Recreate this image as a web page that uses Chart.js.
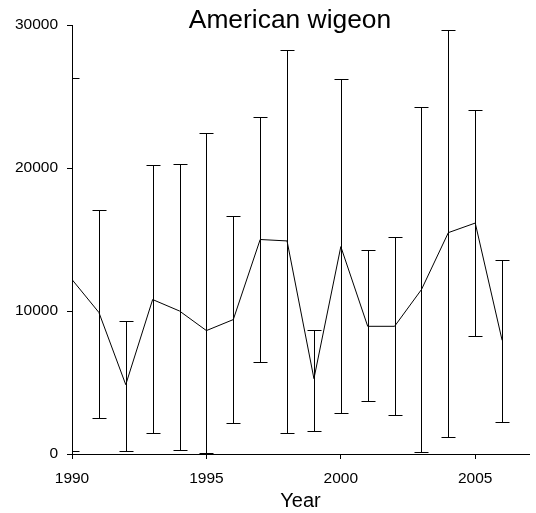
<!DOCTYPE html>
<html>
<head>
<meta charset="utf-8">
<title>American wigeon</title>
<script src="https://cdn.jsdelivr.net/npm/chart.js@4/dist/chart.umd.min.js"></script>
<style>
  body { margin: 0; background: #fff; }
  canvas { display: block; }
</style>
</head>
<body>
<canvas id="myChart" width="536" height="513"></canvas>
<script>
var ctx = document.getElementById('myChart').getContext('2d');

// survey counts per year, with upper / lower limits of each error bar
let years = [1990, 1991, 1992, 1993, 1994, 1995, 1996, 1997, 1998, 1999, 2000, 2001, 2002, 2003, 2004, 2005, 2006];
let counts = [12200, 9900, 4850, 10800, 10000, 8630, 9400, 15000, 14900, 5270, 14500, 8930, 8930, 11500, 15480, 16150, 7950];
let upper = [26300, 17050, 9330, 20200, 20300, 22480, 16620, 23550, 28280, 8650, 26200, 14250, 15150, 24250, 29680, 24080, 13550];
let lower = [200, 2550, 240, 1500, 300, 100, 2170, 6410, 1470, 1640, 2870, 3690, 2710, 170, 1220, 8250, 2240];
let xTicks = [1990, 1995, 2000, 2005];
let yTicks = [0, 10000, 20000, 30000];

let fontFamily = '"Liberation Sans", Arial, sans-serif';

let points = [];
for (let i = 0; i < years.length; i += 1) {
  points.push({ x: years[i], y: counts[i] });
}

// vertical bars with end caps, cut off at the left axis
const errorBars = {
  id: 'errorBars',
  afterDatasetsDraw(chart) {
    const c = chart.ctx;
    const xs = chart.scales.x;
    const ys = chart.scales.y;
    const area = chart.chartArea;
    c.save();
    c.beginPath();
    c.rect(area.left, 0, chart.width - area.left, chart.height);
    c.clip();
    c.strokeStyle = '#000';
    c.lineWidth = 1;
    for (let i = 0; i < years.length; i += 1) {
      const x = Math.round(xs.getPixelForValue(years[i])) + 0.5;
      const top = Math.round(ys.getPixelForValue(upper[i])) + 0.5;
      const bottom = Math.round(ys.getPixelForValue(lower[i])) + 0.5;
      c.beginPath();
      c.moveTo(x, top);
      c.lineTo(x, bottom);
      c.moveTo(x - 7, top);
      c.lineTo(x + 7, top);
      c.moveTo(x - 7, bottom);
      c.lineTo(x + 7, bottom);
      c.stroke();
    }
    c.restore();
  }
};

// title sits over the top of the plot
const titleText = {
  id: 'titleText',
  afterDraw(chart) {
    const c = chart.ctx;
    c.save();
    c.fillStyle = '#000';
    c.font = '26.4px ' + fontFamily;
    c.textAlign = 'center';
    c.textBaseline = 'alphabetic';
    c.fillText('American wigeon', 290, 28);
    c.restore();
  }
};

var chart = new Chart(ctx, {
  type: 'line',
  data: {
    datasets: [{
      label: 'American wigeon',
      data: points,
      borderColor: '#000',
      borderWidth: 1,
      pointRadius: 0,
      fill: false,
      tension: 0
    }]
  },
  options: {
    responsive: false,
    animation: false,
    layout: { padding: { top: 25, right: 7, left: 0, bottom: 0 } },
    plugins: {
      legend: { display: false },
      title: { display: false },
      tooltip: { enabled: false }
    },
    scales: {
      x: {
        type: 'linear',
        min: 1990,
        max: 2007,
        afterBuildTicks: function(scale) {
          scale.ticks = xTicks.map(function(v) { return { value: v }; });
        },
        afterFit: function(scale) { scale.height = 59; },
        ticks: {
          color: '#000',
          font: { family: fontFamily, size: 15.5 },
          padding: 10,
          maxRotation: 0,
          callback: function(v) { return String(v); }
        },
        grid: { display: true, drawOnChartArea: false, drawTicks: true, tickLength: 5, color: '#000' },
        border: { display: true, color: '#000', width: 1 },
        title: {
          display: true,
          text: 'Year',
          color: '#000',
          font: { family: fontFamily, size: 20 },
          padding: { top: 0, bottom: 0 }
        }
      },
      y: {
        min: 0,
        max: 30000,
        afterBuildTicks: function(scale) {
          scale.ticks = yTicks.map(function(v) { return { value: v }; });
        },
        afterFit: function(scale) { scale.width = 72; },
        ticks: {
          color: '#000',
          font: { family: fontFamily, size: 15.5 },
          padding: 9,
          callback: function(v) { return String(v); }
        },
        grid: { display: true, drawOnChartArea: false, drawTicks: true, tickLength: 5, color: '#000' },
        border: { display: true, color: '#000', width: 1 }
      }
    }
  },
  plugins: [errorBars, titleText]
});
</script>
</body>
</html>
